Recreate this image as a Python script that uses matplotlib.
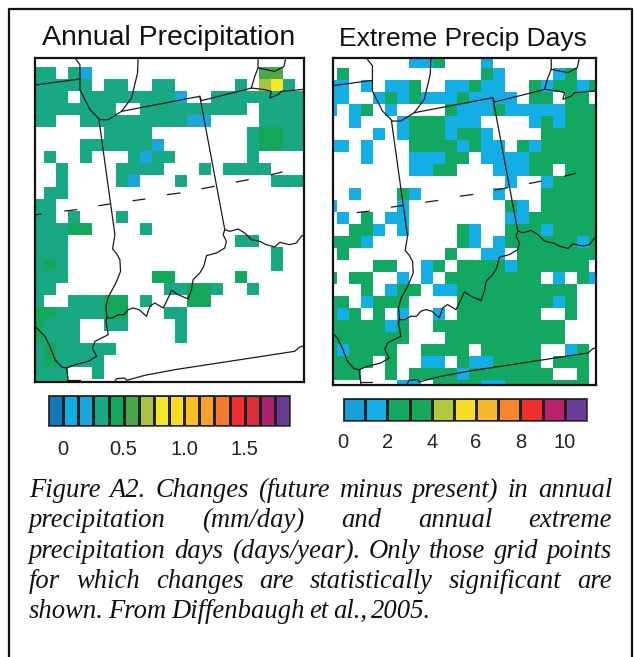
"""
Changes in annual precipitation and extreme precipitation days over Indiana
"""

import matplotlib
matplotlib.use('Agg')
import matplotlib.pyplot as plt
import numpy as np
from matplotlib.colors import BoundaryNorm, ListedColormap

W, H = 634, 657

# grid codes: . not significant, others are one level of the colorbar
precip_grid = [
    "",
    "tt.tb..............mm..",
    "ttttt.tt..tt.....t.lyt.",
    "ttt.ttttttttb..tttttttt",
    "ttttttt..ttttttttt.tttt",
    "tt..tttttttttbb....tttt",
    "......tttt........tggtt",
    "....ttttttb.......tggtt",
    ".t..t...tbtt......t....",
    "..t....tttt...t.tttt...",
    "..t....tb...t.......ttt",
    ".tt",
    "tt",
    "tt.t...t",
    "tttgg....t",
    "ttt..............tt",
    "ttt.................t",
    "tgt.................t",
    "ttt.......gg.....g",
    "tt.........ttggt..t",
    "t..tttgg.t...gg",
    "ggttttgg...tt",
    "gttt..tt....t",
    "gttt........t",
    "tgttttt",
    "tgtttt",
    "ttt..t",
    "ttt",
]
extreme_grid = [
    ".......bbg...b",
    ".g...........gb....bg",
    "bb.b.bbg..bbgbb..gbggbg",
    "bb..bgbgbbbgbbbb.gg.gg.",
    "b.bg.b....gbbbgbbbbbggg",
    "..b...bgggbbb....bgbggg",
    "....b.bgggbggb....ggggg",
    "bb.b...ggggbgbb.gbggggg",
    "...b...bbbgg.bbbbgggggg",
    ".......bbgg...bbbgg.ggg",
    "...............b..bgggg",
    "..b...gb......b...ggggg",
    "b.....b........gb.ggggg",
    ".b.g.bb........bbgggggg",
    "..ggb.b....gb..gggbgggg",
    "gggb.......gb.bggggggbg",
    ".g........g..bb.ggggggg",
    "....gg..bg.ggggbgggggg.",
    "g.gg..b.b.gggggggg.b.gb",
    "...g.bgg.bbgggggggggg",
    "gg.bggg....ggggggggbg",
    "gbg.g.b..b.ggggggg..g",
    "gggggbg..ggggggggggg",
    "ggggggg...gggggggggg",
    "gbgggg..gggg.ggggg..bg",
    "gggg.g..bb.gbbgggg.ggg",
    "ggg..g.ggggbggggggg..g",
    "......bb.ggggbbggggggg",
]
precip_values = {'b': 0.19, 't': 0.31, 'g': 0.44, 'm': 0.56, 'l': 0.69, 'y': 0.81}
extreme_values = {'b': 1.5, 'g': 2.5}

precip_colors = ['#1279b8', '#10aee5', '#1ba6dc', '#18a884', '#13a85c', '#4aa84c',
                 '#a9c23f', '#f4e727', '#f9d923', '#fbbd21', '#f7a12a', '#f37a2e',
                 '#ed2f2f', '#d82f3e', '#a9246a', '#6a3a97']
extreme_colors = ['#1b9fdc', '#14aee6', '#13a862', '#17a85a', '#b2c93c', '#f7dc24',
                  '#f6b828', '#f3862e', '#ed2f2f', '#b92168', '#6b3c98']
precip_levels = np.arange(-0.125, 1.876, 0.125)
extreme_levels = np.arange(0, 12)
precip_ticks = [0, 0.5, 1.0, 1.5]
precip_ticklabels = ['0', '0.5', '1.0', '1.5']
extreme_ticks = [0, 2, 4, 6, 8, 10]

# boundaries, in one map coordinate system shared by both panels
lake_west = [(150, 25), (165, 45), (165, 120), (195, 180), (225, 210), (250, 210),
             (290, 185), (320, 145), (338, 70), (340, 15)]
wi_il = [(0, 110), (165, 88)]
mi_south = [(290, 185), (525, 140), (530, 153), (670, 118), (680, 115)]
erie_west = [(680, 115), (690, 80), (700, 55), (700, 15)]
erie_north = [(700, 55), (750, 65), (778, 50), (785, 15)]
erie_south = [(680, 115), (720, 120), (740, 125), (735, 145), (760, 135), (770, 125), (850, 118)]
in_west = [(222, 210), (270, 555), (263, 598), (275, 612), (285, 630), (287, 665), (273, 700),
           (250, 742), (243, 770), (246, 800), (243, 815), (250, 855), (210, 875), (202, 895),
           (215, 920), (190, 935), (150, 945), (125, 955)]
in_east = [(525, 140), (600, 540)]
ohio_south = [(600, 540), (595, 555), (605, 575), (600, 595), (575, 610), (545, 618), (537, 650),
              (525, 670), (505, 690), (500, 720), (490, 748), (460, 735), (440, 722), (430, 745),
              (415, 775), (390, 760), (375, 770), (365, 800), (343, 780), (325, 775), (310, 780),
              (297, 795), (280, 795), (262, 805), (245, 805)]
ohio_east = [(600, 540), (615, 545), (640, 538), (660, 550), (680, 570), (705, 575), (725, 585),
             (750, 592), (765, 578), (795, 585), (815, 580), (830, 560), (850, 548)]
ohio_lower = [(0, 805), (30, 830), (60, 860), (75, 890), (90, 930), (110, 952), (125, 955),
              (130, 995), (130, 1010)]
ky_tn = [(270, 995), (275, 987), (300, 985), (305, 992), (360, 977), (450, 960), (810, 905),
         (825, 892), (850, 885)]
bottom_stub = [(130, 992), (165, 992)]
boundaries = [lake_west, wi_il, mi_south, erie_west, erie_north, erie_south, in_west,
              in_east, ohio_south, ohio_east, ohio_lower, ky_tn, bottom_stub]
dashes = [[(35, 495), (48, 493)], [(120, 484), (155, 480)], [(222, 468), (255, 463)],
          [(325, 453), (360, 448)], [(428, 435), (465, 430)], [(532, 417), (568, 410)],
          [(635, 397), (670, 390)], [(740, 375), (772, 367)]]

caption_lines = [
    "Figure A2. Changes (future minus present) in annual",
    "precipitation (mm/day) and annual extreme",
    "precipitation days (days/year). Only those grid points",
    "for which changes are statistically significant are",
    "shown. From Diffenbaugh et al., 2005.",
]


def axes_px(fig, left, top, right, bottom):
    """Axes placed by reference pixel edges"""
    return fig.add_axes([left / W, 1 - bottom / H, (right - left) / W, (bottom - top) / H])


def draw_map(ax, grid, values, colors, levels, x0, y0, xlim, ylim):
    codes = [row.ljust(23, '.') for row in grid]
    data = np.array([[values.get(c, np.nan) for c in row] for row in codes])
    xedges = x0 + 36 * np.arange(24)
    yedges = y0 + 36 * np.arange(29)
    ax.pcolormesh(xedges, yedges, np.ma.masked_invalid(data),
                  cmap=ListedColormap(colors), norm=BoundaryNorm(levels, len(colors)))
    for line in boundaries:
        xs, ys = zip(*line)
        ax.plot(xs, ys, color='#1a1a1a', linewidth=0.9)
    for seg in dashes:
        xs, ys = zip(*seg)
        ax.plot(xs, ys, color='#1a1a1a', linewidth=0.9)
    ax.set_xlim(*xlim)
    ax.set_ylim(*ylim)
    ax.set_xticks([])
    ax.set_yticks([])
    for spine in ax.spines.values():
        spine.set_linewidth(1.6)
        spine.set_color('#111111')


def draw_bar(ax, colors, levels, ticks, ticklabels, pad):
    ax.pcolormesh(levels, [0, 1], np.array([levels[:-1] + 0.01]),
                  cmap=ListedColormap(colors), norm=BoundaryNorm(levels, len(colors)),
                  edgecolors='#222222', linewidth=0.8)
    ax.set_xlim(levels[0], levels[-1])
    ax.set_yticks([])
    ax.set_xticks(ticks)
    ax.set_xticklabels(ticklabels, fontsize=14.5, color='#222222', family='Liberation Sans')
    ax.tick_params(length=0, pad=pad)
    for spine in ax.spines.values():
        spine.set_linewidth(0.6)
        spine.set_color('#444444')


fig = plt.figure(figsize=(W / 100, H / 100), dpi=100)
bg = fig.add_axes([0, 0, 1, 1])
bg.set_xlim(0, W)
bg.set_ylim(H, 0)
bg.axis('off')

# outer box, open at the bottom of the picture
bg.plot([9, 9, 632, 632], [H, 9, 9, H], color='#111111', linewidth=1.6)

bg.text(168.5, 45, 'Annual Precipitation', ha='center', va='baseline',
        fontsize=20.5, family='Liberation Sans', color='#111111')
bg.text(462.5, 46, 'Extreme Precip Days', ha='center', va='baseline',
        fontsize=19, family='Liberation Sans', color='#111111')

ax1 = axes_px(fig, 35, 58, 304, 382)
draw_map(ax1, precip_grid, precip_values, precip_colors, precip_levels,
         20, 16, (30, 838), (997, 25))
ax2 = axes_px(fig, 333, 58, 596, 385)
draw_map(ax2, extreme_grid, extreme_values, extreme_colors, extreme_levels,
         22, 14, (47, 834), (1001, 21))

cb1 = axes_px(fig, 48, 395, 290, 426)
draw_bar(cb1, precip_colors, precip_levels, precip_ticks, precip_ticklabels, 10)
cb2 = axes_px(fig, 343, 398, 587, 421)
draw_bar(cb2, extreme_colors, extreme_levels, extreme_ticks,
         [str(t) for t in extreme_ticks], 9)

# justified caption, one word at a time
renderer = fig.canvas.get_renderer()
cap_left, cap_right = 29, 612
cap_font = dict(fontsize=19.2, family='Liberation Serif', style='italic', color='#111111')
for i, line in enumerate(caption_lines):
    y = 497 + i * 30.3
    words = line.split()
    items = [bg.text(0, y, w, va='baseline', **cap_font) for w in words]
    widths = [t.get_window_extent(renderer).width for t in items]
    if i < len(caption_lines) - 1:
        gap = (cap_right - cap_left - sum(widths)) / (len(words) - 1)
    else:
        gap = 4.5
    x = cap_left
    for t, w in zip(items, widths):
        t.set_x(x)
        x += w + gap

plt.savefig('out.png', dpi=100)
